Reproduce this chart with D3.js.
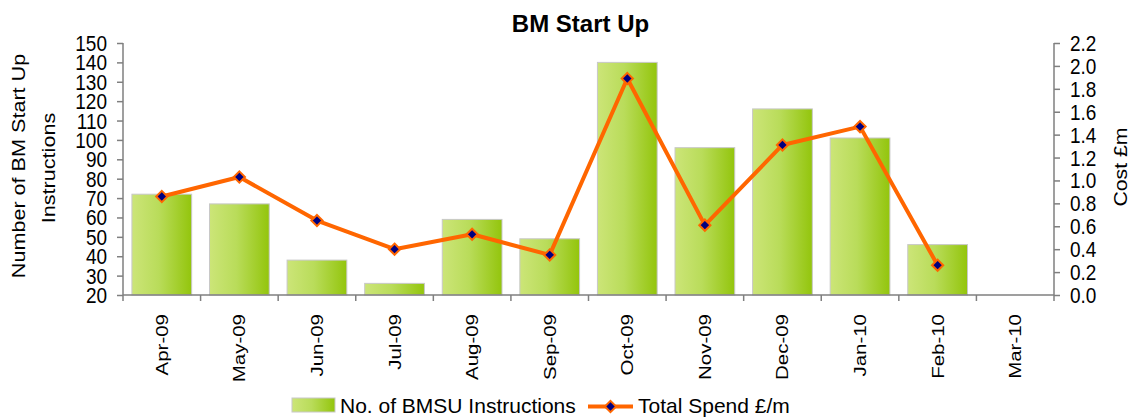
<!DOCTYPE html>
<html>
<head>
<meta charset="utf-8">
<script src="https://cdn.jsdelivr.net/npm/d3@7"></script>
<style>
  body { margin: 0; background: #fff; }
  text { font-family: "Liberation Sans", Arial, sans-serif; fill: #000; }
</style>
</head>
<body>
<svg id="chart"></svg>
<script>
var months = ["Apr-09", "May-09", "Jun-09", "Jul-09", "Aug-09", "Sep-09",
              "Oct-09", "Nov-09", "Dec-09", "Jan-10", "Feb-10", "Mar-10"];
var instructions = [72, 67, 38, 26, 59, 49, 140, 96, 116, 101, 46, null];
var spend = [0.86, 1.03, 0.65, 0.40, 0.53, 0.35, 1.89, 0.61, 1.31, 1.47, 0.26, null];
var leftTicks = [20, 30, 40, 50, 60, 70, 80, 90, 100, 110, 120, 130, 140, 150];
var rightTicks = [0, 0.2, 0.4, 0.6, 0.8, 1.0, 1.2, 1.4, 1.6, 1.8, 2.0, 2.2];

var width = 1136, height = 418;
var m = { left: 123, right: 1054, top: 43, bottom: 295 };

var svg = d3.select("#chart")
  .attr("width", width)
  .attr("height", height);

// gradient for the bars
var grad = svg.append("defs").append("linearGradient")
  .attr("id", "barGrad")
  .attr("x1", "0%").attr("x2", "100%").attr("y1", "0%").attr("y2", "0%");
grad.append("stop").attr("offset", "0%").attr("stop-color", "#cce578");
grad.append("stop").attr("offset", "45%").attr("stop-color", "#b9dc5a");
grad.append("stop").attr("offset", "100%").attr("stop-color", "#93c50c");

var x = d3.scaleBand()
  .domain(months)
  .range([m.left, m.right])
  .paddingInner(0.23)
  .paddingOuter(0.115);

var yL = d3.scaleLinear().domain([20, 150]).range([m.bottom, m.top]);
var yR = d3.scaleLinear().domain([0, 2.2]).range([m.bottom, m.top]);

// text with a vertical stretch like the original
function label(g, str, px, py, opts) {
  var t = g.append("text")
    .attr("transform", "translate(" + px + "," + py + ") scale(1," + (opts.sy || 1) + ")" +
      (opts.rot ? " rotate(" + opts.rot + ")" : ""))
    .attr("font-size", opts.size)
    .attr("text-anchor", opts.anchor || "start")
    .text(str);
  if (opts.dy) t.attr("dy", opts.dy);
  if (opts.bold) t.attr("font-weight", "bold");
  return t;
}

// bars
svg.selectAll("rect.bar")
  .data(months.map(function (d, i) { return { m: d, v: instructions[i] }; })
    .filter(function (d) { return d.v != null; }))
  .enter()
  .append("rect")
  .attr("class", "bar")
  .attr("x", function (d) { return x(d.m); })
  .attr("y", function (d) { return yL(d.v); })
  .attr("width", x.bandwidth())
  .attr("height", function (d) { return yL(20) - yL(d.v); })
  .attr("fill", "url(#barGrad)")
  .attr("stroke", "#c8c8c8")
  .attr("stroke-width", 1);

// axes
var axisColor = "#7f7f7f";
var axes = svg.append("g");

var leftAxis = axes.append("g").attr("transform", "translate(" + m.left + ",0)")
  .call(d3.axisLeft(yL).tickValues(leftTicks).tickSize(6).tickFormat(""));
var rightAxis = axes.append("g").attr("transform", "translate(" + m.right + ",0)")
  .call(d3.axisRight(yR).tickValues(rightTicks).tickSize(6).tickFormat(""));
var bottomTicks = d3.range(months.length + 1).map(function (i) { return m.left + i * x.step(); });
var bottomAxis = axes.append("g").attr("transform", "translate(0," + m.bottom + ")");
bottomAxis.append("line")
  .attr("x1", m.left).attr("x2", m.right)
  .attr("stroke", axisColor).attr("stroke-width", 1.5);
bottomAxis.selectAll("line.tk")
  .data(bottomTicks)
  .enter()
  .append("line")
  .attr("class", "tk")
  .attr("x1", function (d) { return d; }).attr("x2", function (d) { return d; })
  .attr("y1", 0).attr("y2", 6)
  .attr("stroke", axisColor).attr("stroke-width", 1.5);

axes.selectAll(".domain").attr("stroke", axisColor).attr("stroke-width", 1.5)
  .attr("d", function () {
    return d3.select(this.parentNode).attr("transform").indexOf(m.left + ",") > 0
      ? "M0," + m.top + "V" + m.bottom
      : "M0," + m.top + "V" + m.bottom;
  });
axes.selectAll(".tick line").attr("stroke", axisColor).attr("stroke-width", 1.5);

// tick labels
var lab = svg.append("g");
leftTicks.forEach(function (v) {
  label(lab, v, m.left - 16, yL(v), { size: 19, sy: 1.2, anchor: "end", dy: "0.35em" });
});
rightTicks.forEach(function (v) {
  label(lab, d3.format(".1f")(v), m.right + 16, yR(v), { size: 19, sy: 1.2, anchor: "start", dy: "0.35em" });
});
months.forEach(function (d) {
  label(lab, d, x(d) + x.bandwidth() / 2 + 6, 314, { size: 16, sy: 1.28, rot: -90, anchor: "end" });
});

// titles
label(lab, "BM Start Up", (m.left + m.right) / 2 - 8, 32, { size: 24, bold: true, anchor: "middle" });
label(lab, "Number of BM Start Up", 25, 166, { size: 18, sy: 1.2, rot: -90, anchor: "middle" });
label(lab, "Instructions", 55, 168, { size: 18, sy: 1.2, rot: -90, anchor: "middle" });
label(lab, "Cost £m", 1127, 167, { size: 18, sy: 1.18, rot: -90, anchor: "middle" });

// spend line
var pts = months.map(function (d, i) { return { m: d, v: spend[i] }; })
  .filter(function (d) { return d.v != null; });
var line = d3.line()
  .x(function (d) { return x(d.m) + x.bandwidth() / 2; })
  .y(function (d) { return yR(d.v); });
svg.append("path")
  .datum(pts)
  .attr("d", line)
  .attr("fill", "none")
  .attr("stroke", "#ff6600")
  .attr("stroke-width", 4)
  .attr("stroke-linejoin", "round");

var diamond = d3.symbol().type(d3.symbolDiamond2).size(80);
svg.selectAll("path.mk")
  .data(pts)
  .enter()
  .append("path")
  .attr("class", "mk")
  .attr("d", diamond)
  .attr("transform", function (d) {
    return "translate(" + (x(d.m) + x.bandwidth() / 2) + "," + yR(d.v) + ")";
  })
  .attr("fill", "#000080")
  .attr("stroke", "#ff6600")
  .attr("stroke-width", 2);

// legend
var leg = svg.append("g");
leg.append("rect")
  .attr("x", 292).attr("y", 398).attr("width", 43).attr("height", 14)
  .attr("fill", "url(#barGrad)").attr("stroke", "#c8c8c8");
label(leg, "No. of BMSU Instructions", 340, 413, { size: 21 });
leg.append("line")
  .attr("x1", 588).attr("x2", 633).attr("y1", 406.5).attr("y2", 406.5)
  .attr("stroke", "#ff6600").attr("stroke-width", 4);
leg.append("path")
  .attr("d", diamond)
  .attr("transform", "translate(610.5,406.5)")
  .attr("fill", "#000080").attr("stroke", "#ff6600").attr("stroke-width", 2);
label(leg, "Total Spend £/m", 638, 413, { size: 21 });
</script>
</body>
</html>
